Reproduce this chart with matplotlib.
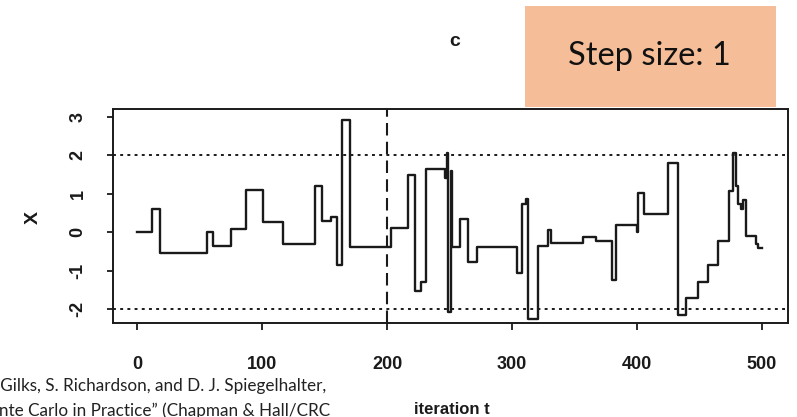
import numpy as np
import matplotlib
matplotlib.use("Agg")
import matplotlib.pyplot as plt

# Sampler trace (iteration where the level starts, value of X)
iter_start = [0, 12, 18, 56, 61, 75, 87, 101, 117, 142, 148, 155, 160, 164, 170,
              203, 217, 222, 227, 231, 246, 248, 249, 251, 252, 258, 265, 272,
              304, 308, 311, 313, 321, 329, 331, 357, 367, 380, 383, 400, 401,
              406, 425, 433, 439, 449, 457, 465, 474, 477, 479, 481, 483, 485,
              487, 495, 497, 500]
x_value = [0.0, 0.6, -0.55, 0.0, -0.35, 0.08, 1.09, 0.28, -0.3, 1.2, 0.29, 0.4, -0.86, 2.92, -0.37,
           0.12, 1.48, -1.53, -1.3, 1.66, 1.41, 2.06, -2.07, 1.6, -0.37, 0.36, -0.78, -0.37,
           -1.05, 0.73, 0.87, -2.26, -0.35, 0.06, -0.29, -0.13, -0.22, -1.23, 0.19, 0.0, 1.03,
           0.47, 1.8, -2.15, -1.7, -1.28, -0.84, -0.22, 1.07, 2.06, 1.2, 0.73, 0.6, 0.84,
           -0.09, -0.3, -0.4, -0.4]

bounds = [-2, 2]
burn_in = 200
x_ticks = [0, 100, 200, 300, 400, 500]
y_ticks = [-2, -1, 0, 1, 2, 3]

ink = "#1a1a1a"

fig = plt.figure(figsize=(7.97, 4.17), dpi=100)
ax = fig.add_axes([0.1418, 0.2254, 0.8469, 0.5132])

ax.plot(iter_start, x_value, drawstyle="steps-post", color=ink, lw=1.7)
for b in bounds:
    ax.axhline(b, color=ink, lw=1.4, linestyle=(0, (1.5, 2.2)))
ax.axvline(burn_in, color=ink, lw=1.5, linestyle=(0, (6, 3)))

ax.set_xlim(-19.2, 520.8)
ax.set_ylim(-2.36, 3.21)
ax.set_xticks(x_ticks)
ax.set_yticks(y_ticks)
for s in ax.spines.values():
    s.set_linewidth(1.4)
    s.set_color(ink)

tick_font = dict(family="Liberation Sans", weight="bold", size=13)
ax.set_xticklabels([str(v) for v in x_ticks], fontdict=tick_font, color=ink)
ax.set_yticklabels([str(v) for v in y_ticks], fontdict=tick_font, color=ink,
                   rotation=90, va="center")
ax.tick_params(axis="x", direction="out", length=5, width=1.3, pad=19, colors=ink)
ax.tick_params(axis="y", direction="out", length=4, width=1.3, pad=15, colors=ink)

fig.text(33 / 797, 1 - 217 / 417, "X", rotation=90, ha="center", va="center",
         fontsize=14, weight="bold", family="Liberation Sans", color=ink)
fig.text(452 / 797, 1 - 410 / 417, "iteration t", ha="center", va="center",
         fontsize=12, weight="bold", family="Liberation Sans", color=ink)
fig.text(455 / 797, 1 - 41 / 417, "c", ha="center", va="center",
         fontsize=14, weight="bold", family="Liberation Sans", color=ink)

# orange label box
box = plt.Rectangle((525 / 797, 1 - 107 / 417), 251 / 797, 101 / 417,
                    transform=fig.transFigure, facecolor="#F5BD98", edgecolor="none")
fig.add_artist(box)
fig.text(649 / 797, 1 - 56 / 417, "Step size: 1", ha="center", va="center",
         fontsize=23.5, family="Lato", color="#111111")

# citation, clipped by the figure edge as in the source image
fig.text(326 / 797, 1 - 386 / 417, "W. R. Gilks, S. Richardson, and D. J. Spiegelhalter,",
         ha="right", va="center", fontsize=12.3, family="Lato", color="#222222")
fig.text(330 / 797, 1 - 411 / 417, "Markov Chain Monte Carlo in Practice\u201d (Chapman & Hall/CRC",
         ha="right", va="center", fontsize=12.3, family="Lato", color="#222222")

fig.savefig("out.png", dpi=100)
